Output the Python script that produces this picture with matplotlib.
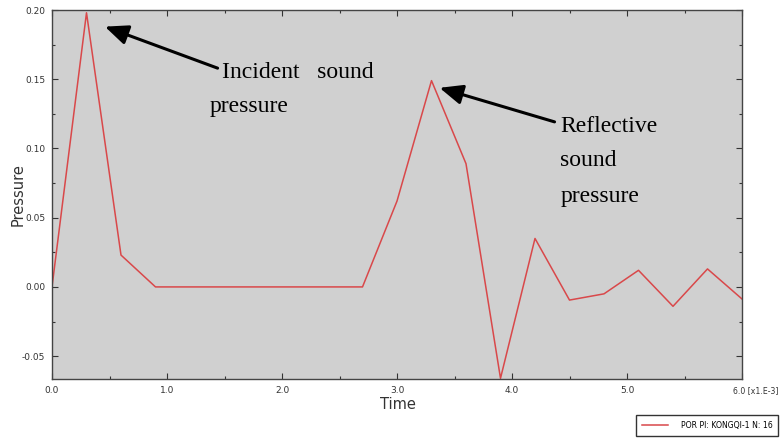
import matplotlib
matplotlib.use("Agg")
import matplotlib.pyplot as plt
import matplotlib.transforms as mtransforms
from matplotlib.ticker import MultipleLocator, FixedLocator

time = [0.0, 0.3, 0.6, 0.9, 1.2, 1.5, 1.8, 2.1, 2.4, 2.7, 3.0, 3.3, 3.6, 3.9,
        4.2, 4.5, 4.8, 5.1, 5.4, 5.7, 6.0]
pressure = [0.0, 0.198, 0.023, 0.0, 0.0, 0.0, 0.0, 0.0, 0.0, 0.0, 0.062, 0.149,
            0.089, -0.066, 0.035, -0.0095, -0.005, 0.012, -0.014, 0.013, -0.0087]
x_ticks = [0.0, 1.0, 2.0, 3.0, 4.0, 5.0, 6.0]
x_tick_labels = ["0.0", "1.0", "2.0", "3.0", "4.0", "5.0", "6.0 [x1.E-3]"]
y_ticks = [-0.05, 0.0, 0.05, 0.10, 0.15, 0.20]
y_tick_labels = ["-0.05", "0.00", "0.05", "0.10", "0.15", "0.20"]
legend_label = "POR PI: KONGQI-1 N: 16"

W, H = 783, 438
fig = plt.figure(figsize=(W / 100, H / 100), dpi=100)
fig.patch.set_facecolor("white")
ax = fig.add_axes([52 / W, 1 - 379 / H, (742 - 52) / W, (379 - 10) / H])
ax.set_facecolor("#d0d0d0")

line, = ax.plot(time, pressure, color="#d9484a", lw=1.1, label=legend_label)

ax.set_xlim(0, 6.0)
ax.set_ylim(-0.0665, 0.2)
ax.xaxis.set_major_locator(FixedLocator(x_ticks))
ax.set_xticklabels(x_tick_labels)
ax.xaxis.set_minor_locator(MultipleLocator(0.5))
ax.yaxis.set_major_locator(FixedLocator(y_ticks))
ax.set_yticklabels(y_tick_labels)
ax.yaxis.set_minor_locator(MultipleLocator(0.025))
ax.tick_params(which="both", direction="in", top=True, right=True,
               labelsize=6.5, labelcolor="#333333", color="#333333")
ax.tick_params(which="major", length=4, width=0.8, pad=5)
ax.tick_params(which="minor", length=2.5, width=0.8)
for s in ax.spines.values():
    s.set_color("#444444")
    s.set_linewidth(1.0)

last = ax.get_xticklabels()[-1]
last.set_horizontalalignment("left")
last.set_fontsize(5.6)
last.set_transform(last.get_transform() +
                   mtransforms.ScaledTranslation(-9 / 100, 0, fig.dpi_scale_trans))

ax.set_xlabel("Time", fontsize=10.5, color="#333333", family="DejaVu Sans")
ax.set_ylabel("Pressure", fontsize=10.5, color="#333333", family="DejaVu Sans")
ax.yaxis.set_label_coords(-0.049, 0.5)
ax.yaxis.label.set_va("center")
ax.xaxis.label.set_va("center")
ax.xaxis.set_label_coords(0.501, -0.07)

serif = dict(family="Liberation Serif", fontsize=17, color="black", va="center", ha="left")
ax.text(1.48, 0.155, "Incident   sound", **serif)
ax.text(1.37, 0.1305, "pressure", **serif)
ax.text(4.42, 0.1155, "Reflective", **serif)
ax.text(4.42, 0.0910, "sound", **serif)
ax.text(4.42, 0.0650, "pressure", **serif)

arrow = dict(arrowstyle="-|>,head_length=0.7,head_width=0.3", lw=2.2, color="black",
             shrinkA=0, shrinkB=0, mutation_scale=20)
ax.annotate("", xy=(0.46, 0.188), xytext=(1.44, 0.158), arrowprops=arrow)
ax.annotate("", xy=(3.37, 0.1438), xytext=(4.37, 0.1192), arrowprops=arrow)

leg = fig.legend(handles=[line], loc="lower left", bbox_to_anchor=(636 / W, 2 / H),
                 fontsize=5.6, frameon=True, fancybox=False, borderpad=0.75,
                 handlelength=3.4, handletextpad=1.6, borderaxespad=0)
leg.get_frame().set_edgecolor("black")
leg.get_frame().set_linewidth(1.0)

fig.savefig("out.png", dpi=100)
